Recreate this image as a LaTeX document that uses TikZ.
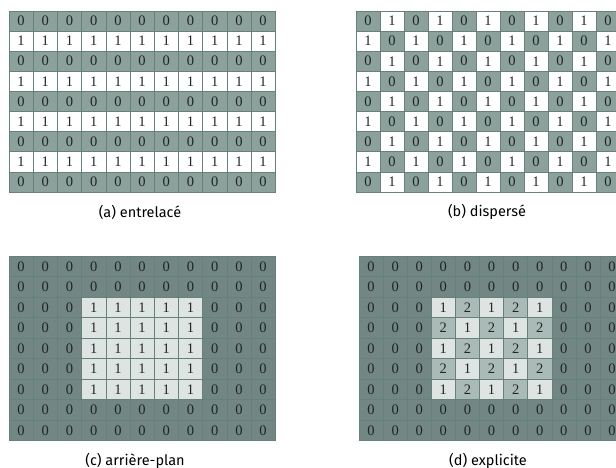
\documentclass[tikz,border=0pt]{standalone}
\usepackage{fontspec}
\newfontfamily\capfont{Fira Sans}
\newfontfamily\digfont{Liberation Serif}
\definecolor{darkA}{HTML}{8CA09C}
\definecolor{darkC}{HTML}{728683}
\definecolor{lightC}{HTML}{DEE4E2}
\definecolor{midD}{HTML}{AABAB6}
\definecolor{gridc}{HTML}{66817C}
\definecolor{digit}{HTML}{1F2726}
\begin{document}
\begin{tikzpicture}[x=1pt,y=-1pt,
  cell/.style={draw=gridc, line width=0.5pt, inner sep=0pt, text=digit,
    font=\digfont\fontsize{14.5}{14.5}\selectfont},
  captxt/.style={font=\capfont\fontsize{14.5}{15}\selectfont, text=black, inner sep=0pt}]
\useasboundingbox (0,0) rectangle (616,468);
\begin{scope}
\clip (0,0) rectangle (616,468);
% (a) entrelace
\foreach \r in {0,...,8}{\foreach \c in {0,...,10}{
  \pgfmathtruncatemacro\v{mod(\r,2)}
  \ifnum\v=0 \def\fc{darkA}\else\def\fc{white}\fi
  \node[cell, fill=\fc, minimum width=24.2pt, minimum height=20.1pt]
    (a-\r-\c) at ({9+24.2*(\c+0.5)},{11+20.1*(\r+0.5)}) {\v};
}}
% (b) disperse
\foreach \r in {0,...,8}{\foreach \c in {0,...,10}{
  \pgfmathtruncatemacro\v{mod(\r+\c,2)}
  \ifnum\v=0 \def\fc{darkA}\else\def\fc{white}\fi
  \node[cell, fill=\fc, minimum width=24pt, minimum height=20.1pt]
    (b-\r-\c) at ({356+24*(\c+0.5)},{11+20.1*(\r+0.5)}) {\v};
}}
% (c) arriere-plan
\foreach \r in {0,...,8}{\foreach \c in {0,...,10}{
  \pgfmathtruncatemacro\inside{and(and(\r>1,\r<7),and(\c>2,\c<8))}
  \ifnum\inside=1 \def\v{1}\def\fc{lightC}\else\def\v{0}\def\fc{darkC}\fi
  \node[cell, fill=\fc, minimum width=24.2pt, minimum height=20.5pt]
    (c-\r-\c) at ({9+24.2*(\c+0.5)},{256+20.5*(\r+0.5)}) {\v};
}}
% (d) explicite
\foreach \r in {0,...,8}{\foreach \c in {0,...,10}{
  \pgfmathtruncatemacro\inside{and(and(\r>1,\r<7),and(\c>2,\c<8))}
  \pgfmathtruncatemacro\pty{mod(\r+\c,2)}
  \ifnum\inside=1
    \ifnum\pty=1 \def\v{1}\def\fc{lightC}\else\def\v{2}\def\fc{midD}\fi
  \else\def\v{0}\def\fc{darkC}\fi
  \node[cell, fill=\fc, minimum width=24.1pt, minimum height=20.5pt]
    (d-\r-\c) at ({359+24.1*(\c+0.5)},{256+20.5*(\r+0.5)}) {\v};
}}
\end{scope}
\node[captxt] (capa) at (140,212) {(a) entrelacé};
\node[captxt] (capb) at (487,212) {(b) dispersé};
\node[captxt] (capc) at (135,461) {(c) arrière-plan};
\node[captxt] (capd) at (488,461) {(d) explicite};
\end{tikzpicture}
\end{document}
